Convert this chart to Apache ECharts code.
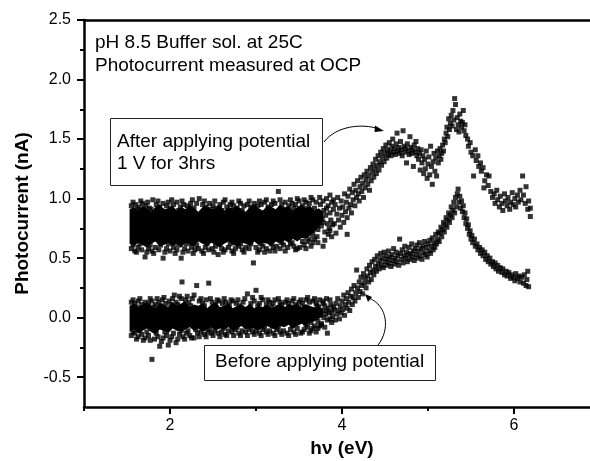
<!DOCTYPE html>
<html><head><meta charset="utf-8">
<script src="https://cdn.jsdelivr.net/npm/echarts@6/dist/echarts.min.js"></script>
<style>html,body{margin:0;padding:0;background:#fff}#c{width:590px;height:461px}</style>
</head><body><div id="c"></div><script>
// ---- tick values ----
const xTickLabels = [2, 4, 6];
const xMinorTicks = [1, 3, 5, 7];
const yTickLabels = [-0.5, 0, 0.5, 1, 1.5, 2, 2.5];
const yMinorTicks = [-0.25, 0.25, 0.75, 1.25, 1.75, 2.25];

// ---- dense core of the two noisy bands (x, lower edge, upper edge) ----
const bandX = [1.53,1.58,1.63,1.68,1.73,1.78,1.83,1.88,1.93,1.98,2.03,2.08,2.13,2.18,2.23,2.28,2.33,2.38,2.43,2.48,2.53,2.58,2.63,2.68,2.73,2.78,2.83,2.88,2.93,2.98,3.03,3.08,3.13,3.18,3.23,3.28,3.33,3.38,3.43,3.48,3.53,3.58,3.63,3.68,3.73,3.78];
const afterBandHigh = [0.91,0.93,0.90,0.94,0.92,0.89,0.93,0.95,0.91,0.92,0.94,0.90,0.93,0.91,0.95,0.92,0.89,0.93,0.94,0.91,0.92,0.95,0.90,0.93,0.92,0.94,0.91,0.89,0.93,0.95,0.92,0.90,0.94,0.93,0.91,0.95,0.92,0.94,0.90,0.93,0.95,0.92,0.94,0.90,0.92,0.89];
const afterBandLow  = [0.62,0.60,0.63,0.61,0.59,0.62,0.64,0.60,0.61,0.63,0.60,0.62,0.59,0.63,0.61,0.60,0.64,0.62,0.60,0.63,0.61,0.59,0.62,0.64,0.61,0.60,0.63,0.62,0.60,0.64,0.61,0.63,0.62,0.60,0.64,0.62,0.65,0.63,0.66,0.64,0.67,0.66,0.69,0.72,0.76,0.80];
const beforeBandHigh = [0.10,0.12,0.09,0.11,0.13,0.10,0.08,0.12,0.11,0.09,0.13,0.10,0.12,0.14,0.09,0.11,0.10,0.12,0.08,0.11,0.13,0.09,0.10,0.12,0.08,0.10,0.11,0.09,0.12,0.08,0.10,0.09,0.11,0.08,0.10,0.12,0.09,0.11,0.10,0.12,0.09,0.11,0.10,0.08,0.09,0.07];
const beforeBandLow  = [-0.12,-0.10,-0.13,-0.11,-0.09,-0.12,-0.14,-0.10,-0.11,-0.13,-0.09,-0.11,-0.12,-0.10,-0.08,-0.11,-0.09,-0.12,-0.10,-0.08,-0.11,-0.09,-0.10,-0.08,-0.11,-0.09,-0.07,-0.10,-0.08,-0.09,-0.11,-0.08,-0.07,-0.09,-0.10,-0.07,-0.08,-0.06,-0.09,-0.07,-0.05,-0.07,-0.04,-0.03,-0.01,0.02];

// ---- "After applying potential" individual points ----
const afterEdgeTop = [[1.55,0.94],[1.60,0.95],[1.64,0.93],[1.68,0.96],[1.72,0.94],[1.76,0.92],[1.80,0.99],[1.84,0.95],[1.88,0.93],[1.92,0.96],[1.96,0.94],[2.00,0.92],[2.04,0.95],[2.08,0.97],[2.12,0.93],[2.16,0.95],[2.20,0.94],[2.24,0.96],[2.28,0.92],[2.34,1.00],[2.38,0.95],[2.42,0.93],[2.46,0.96],[2.50,0.94],[2.54,0.92],[2.58,0.95],[2.62,0.97],[2.66,0.93],[2.70,0.95],[2.74,0.94],[2.78,0.92],[2.82,0.96],[2.86,0.94],[2.90,0.95],[2.94,0.93],[2.98,0.96],[3.02,0.94],[3.06,0.95],[3.10,0.97],[3.14,0.93],[3.18,0.95],[3.22,0.96],[3.26,1.06],[3.30,0.95],[3.34,0.97],[3.38,0.94],[3.42,0.96],[3.46,0.95],[3.50,0.98],[3.54,0.94],[3.58,0.97],[3.62,0.96],[3.66,0.99],[3.70,0.97],[3.74,1.01],[3.78,0.98],[3.82,1.00],[3.86,1.03],[3.90,0.99]];
const afterEdgeTop2 = [[1.57,0.97],[1.62,0.91],[1.66,0.98],[1.74,0.97],[1.78,0.91],[1.86,0.98],[1.90,0.90],[1.98,0.97],[2.02,0.99],[2.10,0.90],[2.14,0.98],[2.22,0.91],[2.26,0.99],[2.31,0.96],[2.40,0.98],[2.48,0.91],[2.52,0.98],[2.60,0.90],[2.64,0.99],[2.72,0.97],[2.80,0.98],[2.84,0.90],[2.92,0.98],[2.96,0.91],[3.04,0.98],[3.12,0.99],[3.16,0.91],[3.20,0.98],[3.28,0.99],[3.32,0.91],[3.40,0.99],[3.44,0.92],[3.48,1.00],[3.56,0.99],[3.60,0.92],[3.64,1.01]];
const afterEdgeBottom = [[1.55,0.58],[1.59,0.56],[1.63,0.59],[1.67,0.57],[1.71,0.51],[1.75,0.58],[1.79,0.56],[1.83,0.59],[1.87,0.57],[1.92,0.50],[1.96,0.58],[2.00,0.56],[2.04,0.59],[2.08,0.57],[2.13,0.50],[2.17,0.58],[2.21,0.56],[2.25,0.59],[2.29,0.57],[2.33,0.58],[2.37,0.56],[2.41,0.59],[2.45,0.57],[2.49,0.58],[2.53,0.60],[2.56,0.53],[2.60,0.58],[2.64,0.57],[2.68,0.59],[2.72,0.56],[2.76,0.58],[2.80,0.60],[2.84,0.57],[2.88,0.59],[2.92,0.58],[2.97,0.46],[3.00,0.59],[3.04,0.57],[3.08,0.60],[3.12,0.58],[3.16,0.56],[3.20,0.59],[3.24,0.60],[3.28,0.58],[3.32,0.61],[3.37,0.59],[3.40,0.62],[3.44,0.60],[3.48,0.58],[3.51,0.59],[3.56,0.61],[3.60,0.64],[3.64,0.60],[3.68,0.66],[3.72,0.63],[3.78,0.60],[3.80,0.65],[3.84,0.70],[3.88,0.68],[4.06,0.70]];
const afterEdgeBottom2 = [[1.57,0.61],[1.61,0.55],[1.65,0.62],[1.73,0.55],[1.77,0.61],[1.81,0.54],[1.89,0.61],[1.94,0.55],[1.98,0.62],[2.06,0.54],[2.10,0.61],[2.15,0.55],[2.19,0.62],[2.27,0.54],[2.31,0.61],[2.39,0.54],[2.43,0.62],[2.51,0.55],[2.58,0.62],[2.62,0.55],[2.70,0.62],[2.74,0.54],[2.82,0.62],[2.86,0.55],[2.94,0.62],[3.02,0.55],[3.06,0.62],[3.10,0.55],[3.18,0.62],[3.22,0.56],[3.30,0.63],[3.34,0.56],[3.42,0.63],[3.46,0.57],[3.54,0.64],[3.58,0.58],[3.62,0.66],[3.66,0.63]];
const afterTransition = [[3.62,0.78],[3.64,0.86],[3.66,0.70],[3.68,0.92],[3.70,0.80],[3.72,0.74],[3.73,0.88],[3.75,0.95],[3.76,0.77],[3.77,0.83],[3.79,0.90],[3.80,0.72],[3.81,0.86],[3.83,0.79],[3.84,0.94],[3.85,0.75],[3.86,0.88],[3.87,0.82],[3.88,0.97],[3.89,0.78],[3.90,0.91],[3.71,0.68],[3.74,0.84],[3.78,0.80],[3.82,0.92],[3.86,0.73]];
const afterTail = [[3.91,0.79],[3.92,0.95],[3.93,0.71],[3.94,0.87],[3.95,1.01],[3.96,0.82],[3.97,0.92],[3.98,0.76],[3.99,0.98],[4.00,0.86],[4.01,0.93],[4.02,0.80],[4.03,1.04],[4.04,0.89],[4.05,0.97],[4.06,0.84],[4.07,1.02],[4.08,0.92],[4.09,1.08],[4.10,0.95],[4.11,0.88],[4.12,1.05],[4.13,0.99],[4.14,1.12],[4.15,0.94],[4.16,1.07],[4.17,1.01],[4.18,1.15],[4.19,1.04],[4.20,0.98],[4.21,1.10],[4.22,1.18],[4.23,1.06],[4.24,1.13],[4.25,1.01],[4.26,1.20],[4.27,1.09],[4.28,1.16],[4.29,1.23],[4.30,1.12],[4.31,1.19],[4.32,1.07],[4.33,1.26],[4.34,1.15],[4.35,1.22],[4.36,1.29],[4.37,1.18],[4.38,1.25],[4.39,1.33],[4.40,1.21],[4.41,1.28],[4.42,1.36],[4.43,1.24],[4.44,1.31],[4.45,1.39],[4.46,1.28],[4.47,1.35],[4.48,1.42],[4.49,1.31],[4.50,1.38],[4.51,1.45],[4.52,1.34],[4.53,1.41],[4.54,1.37],[4.55,1.47],[4.56,1.40],[4.57,1.36],[4.58,1.44],[4.59,1.50],[4.60,1.39],[4.61,1.42],[4.62,1.37],[4.63,1.46],[4.64,1.55],[4.65,1.40],[4.66,1.43],[4.67,1.38],[4.68,1.48],[4.69,1.41],[4.70,1.36],[4.71,1.57],[4.72,1.44],[4.73,1.39],[4.74,1.42],[4.75,1.30],[4.76,1.46],[4.77,1.40],[4.78,1.37],[4.79,1.52],[4.80,1.43],[4.81,1.38],[4.82,1.41],[4.83,1.27],[4.84,1.45],[4.85,1.39],[4.86,1.48],[4.87,1.36],[4.88,1.42],[4.89,1.33],[4.90,1.38],[4.91,1.24],[4.92,1.41],[4.93,1.30],[4.94,1.36],[4.95,1.21],[4.96,1.33],[4.97,1.25],[4.98,1.40],[4.99,1.17],[5.00,1.29],[5.01,1.35],[5.02,1.20],[5.03,1.44],[5.04,1.27],[5.05,1.12],[5.06,1.31],[5.07,1.38],[5.08,1.23],[5.09,1.34],[5.10,1.19],[5.11,1.40],[5.12,1.30],[5.13,1.36],[5.14,1.42],[5.15,1.33],[5.16,1.38],[5.17,1.45],[5.18,1.40],[5.19,1.50],[5.20,1.47],[5.21,1.55],[5.22,1.60],[5.23,1.52],[5.24,1.67],[5.25,1.58],[5.26,1.63],[5.27,1.70],[5.28,1.61],[5.29,1.74],[5.30,1.66],[5.31,1.84],[5.32,1.79],[5.33,1.58],[5.34,1.68],[5.35,1.62],[5.36,1.56],[5.37,1.71],[5.38,1.65],[5.39,1.60],[5.40,1.64],[5.41,1.74],[5.42,1.57],[5.43,1.62],[5.44,1.53],[5.46,1.50],[5.47,1.44],[5.49,1.47],[5.50,1.39],[5.52,1.36],[5.53,1.19],[5.55,1.41],[5.56,1.32],[5.58,1.36],[5.59,1.27],[5.61,1.30],[5.62,1.23],[5.64,1.26],[5.65,1.09],[5.66,1.15],[5.68,1.20],[5.70,1.11],[5.71,1.19],[5.73,1.06],[5.75,1.01],[5.77,1.04],[5.78,0.96],[5.80,1.07],[5.81,0.99],[5.83,0.93],[5.84,1.02],[5.86,0.96],[5.87,0.90],[5.89,1.04],[5.90,0.98],[5.92,0.94],[5.93,1.01],[5.95,0.91],[5.96,0.97],[5.98,1.05],[5.99,0.95],[6.01,1.00],[6.02,0.93],[6.04,1.03],[6.05,0.97],[6.07,1.07],[6.08,0.99],[6.10,1.19],[6.11,1.03],[6.13,0.96],[6.14,1.10],[6.16,0.91],[6.17,0.98],[6.19,0.85],[6.19,0.92]];

// ---- "Before applying potential" individual points ----
const beforeEdgeTop = [[1.55,0.13],[1.59,0.12],[1.63,0.14],[1.67,0.11],[1.71,0.13],[1.75,0.12],[1.79,0.14],[1.83,0.11],[1.87,0.13],[1.91,0.15],[1.95,0.12],[1.99,0.14],[2.03,0.16],[2.07,0.13],[2.11,0.18],[2.14,0.30],[2.18,0.15],[2.22,0.13],[2.26,0.16],[2.31,0.27],[2.34,0.14],[2.38,0.12],[2.42,0.15],[2.45,0.29],[2.49,0.13],[2.53,0.11],[2.57,0.14],[2.61,0.12],[2.65,0.13],[2.69,0.11],[2.73,0.14],[2.77,0.12],[2.81,0.10],[2.85,0.13],[2.90,0.20],[2.94,0.12],[2.98,0.14],[3.00,0.23],[3.04,0.12],[3.08,0.15],[3.12,0.11],[3.16,0.13],[3.20,0.12],[3.26,0.16],[3.30,0.11],[3.34,0.13],[3.38,0.12],[3.42,0.14],[3.46,0.11],[3.50,0.13],[3.54,0.12],[3.58,0.15],[3.62,0.13],[3.66,0.14],[3.70,0.12],[3.74,0.15],[3.78,0.14],[3.82,0.16],[3.86,0.15]];
const beforeEdgeTop2 = [[1.57,0.15],[1.61,0.09],[1.65,0.16],[1.73,0.10],[1.77,0.16],[1.81,0.09],[1.85,0.16],[1.89,0.10],[1.93,0.17],[2.01,0.11],[2.05,0.19],[2.09,0.11],[2.13,0.16],[2.20,0.18],[2.24,0.10],[2.28,0.19],[2.36,0.16],[2.40,0.10],[2.47,0.16],[2.51,0.09],[2.55,0.15],[2.63,0.16],[2.67,0.09],[2.71,0.15],[2.79,0.15],[2.83,0.08],[2.87,0.16],[2.96,0.17],[3.02,0.10],[3.06,0.17],[3.14,0.15],[3.18,0.09],[3.22,0.15],[3.28,0.13],[3.36,0.15],[3.40,0.09],[3.44,0.16],[3.52,0.15],[3.56,0.09],[3.60,0.17],[3.68,0.16]];
const beforeEdgeBottom = [[1.55,-0.15],[1.59,-0.13],[1.63,-0.16],[1.67,-0.14],[1.71,-0.17],[1.75,-0.15],[1.79,-0.35],[1.82,-0.18],[1.86,-0.16],[1.88,-0.24],[1.92,-0.17],[1.96,-0.15],[1.98,-0.23],[2.02,-0.16],[2.07,-0.21],[2.11,-0.14],[2.15,-0.16],[2.19,-0.13],[2.23,-0.15],[2.28,-0.17],[2.32,-0.13],[2.36,-0.12],[2.40,-0.14],[2.44,-0.12],[2.48,-0.13],[2.52,-0.11],[2.56,-0.13],[2.60,-0.12],[2.64,-0.14],[2.68,-0.11],[2.72,-0.12],[2.76,-0.10],[2.80,-0.13],[2.84,-0.11],[2.88,-0.12],[2.92,-0.10],[2.96,-0.12],[3.00,-0.11],[3.04,-0.13],[3.08,-0.10],[3.12,-0.12],[3.16,-0.11],[3.20,-0.13],[3.24,-0.10],[3.28,-0.12],[3.32,-0.11],[3.36,-0.13],[3.40,-0.10],[3.44,-0.12],[3.48,-0.09],[3.52,-0.13],[3.56,-0.10],[3.60,-0.08],[3.64,-0.11],[3.68,-0.07],[3.72,-0.09],[3.76,-0.06],[3.80,-0.08],[3.83,-0.13],[3.88,-0.04]];
const beforeEdgeBottom2 = [[1.57,-0.12],[1.61,-0.18],[1.65,-0.11],[1.69,-0.19],[1.73,-0.12],[1.77,-0.19],[1.84,-0.13],[1.90,-0.20],[1.94,-0.12],[2.00,-0.19],[2.04,-0.13],[2.09,-0.18],[2.13,-0.11],[2.17,-0.18],[2.21,-0.11],[2.25,-0.17],[2.30,-0.10],[2.34,-0.16],[2.38,-0.09],[2.42,-0.16],[2.46,-0.10],[2.50,-0.15],[2.58,-0.16],[2.62,-0.09],[2.66,-0.15],[2.74,-0.15],[2.78,-0.08],[2.82,-0.15],[2.90,-0.15],[2.94,-0.08],[2.98,-0.14],[3.06,-0.15],[3.10,-0.08],[3.14,-0.14],[3.22,-0.15],[3.26,-0.08],[3.30,-0.14],[3.38,-0.15],[3.42,-0.07],[3.46,-0.14],[3.54,-0.12],[3.58,-0.06],[3.62,-0.13],[3.66,-0.09],[3.70,-0.12]];
const beforeTransition = [[3.62,0.02],[3.64,-0.04],[3.66,0.07],[3.68,0.00],[3.70,0.04],[3.72,-0.03],[3.73,0.09],[3.75,0.02],[3.76,-0.05],[3.77,0.06],[3.79,0.00],[3.80,0.10],[3.81,0.03],[3.83,-0.02],[3.84,0.08],[3.85,0.04],[3.86,-0.01],[3.87,0.11],[3.88,0.05],[3.89,0.01],[3.90,0.09],[3.71,0.10],[3.74,-0.07],[3.78,0.12],[3.82,0.06]];
const beforeTail = [[3.91,0.07],[3.92,-0.02],[3.93,0.12],[3.94,0.03],[3.95,0.16],[3.96,0.06],[3.97,-0.01],[3.98,0.10],[3.99,0.04],[4.00,0.14],[4.01,0.07],[4.02,0.19],[4.03,0.02],[4.04,0.11],[4.05,0.16],[4.06,0.08],[4.07,0.21],[4.08,0.13],[4.09,0.06],[4.10,0.18],[4.11,0.24],[4.12,0.11],[4.13,0.17],[4.14,0.27],[4.15,0.14],[4.16,0.21],[4.17,0.40],[4.18,0.25],[4.19,0.17],[4.20,0.30],[4.21,0.22],[4.22,0.34],[4.23,0.27],[4.24,0.20],[4.25,0.37],[4.26,0.29],[4.27,0.33],[4.28,0.25],[4.29,0.41],[4.30,0.35],[4.31,0.30],[4.32,0.44],[4.33,0.38],[4.34,0.32],[4.35,0.47],[4.36,0.40],[4.37,0.36],[4.38,0.49],[4.39,0.43],[4.40,0.39],[4.41,0.52],[4.42,0.45],[4.43,0.41],[4.44,0.48],[4.45,0.54],[4.46,0.44],[4.47,0.50],[4.48,0.42],[4.49,0.55],[4.50,0.47],[4.51,0.52],[4.52,0.44],[4.53,0.49],[4.54,0.56],[4.55,0.46],[4.56,0.51],[4.57,0.43],[4.58,0.53],[4.59,0.48],[4.60,0.58],[4.61,0.45],[4.62,0.50],[4.63,0.55],[4.64,0.47],[4.65,0.52],[4.66,0.44],[4.67,0.66],[4.68,0.54],[4.69,0.49],[4.70,0.57],[4.71,0.46],[4.72,0.52],[4.73,0.60],[4.74,0.50],[4.75,0.55],[4.76,0.47],[4.77,0.53],[4.78,0.59],[4.79,0.49],[4.80,0.54],[4.81,0.62],[4.82,0.51],[4.83,0.56],[4.84,0.48],[4.85,0.58],[4.86,0.53],[4.87,0.61],[4.88,0.50],[4.89,0.56],[4.90,0.63],[4.91,0.52],[4.92,0.58],[4.93,0.49],[4.94,0.60],[4.95,0.55],[4.96,0.64],[4.97,0.53],[4.98,0.59],[4.99,0.51],[5.00,0.62],[5.01,0.56],[5.02,0.65],[5.03,0.54],[5.04,0.60],[5.05,0.67],[5.06,0.57],[5.07,0.63],[5.08,0.59],[5.09,0.70],[5.10,0.62],[5.11,0.66],[5.12,0.72],[5.13,0.64],[5.14,0.71],[5.15,0.76],[5.16,0.68],[5.17,0.74],[5.18,0.80],[5.19,0.72],[5.20,0.78],[5.21,0.84],[5.22,0.76],[5.23,0.82],[5.24,0.88],[5.25,0.80],[5.26,0.86],[5.27,0.93],[5.28,0.84],[5.29,0.90],[5.30,0.97],[5.31,0.88],[5.32,1.01],[5.33,0.93],[5.34,1.04],[5.35,1.08],[5.36,0.97],[5.37,1.02],[5.38,0.92],[5.39,0.98],[5.40,0.89],[5.41,0.94],[5.42,0.84],[5.43,0.88],[5.44,0.79],[5.45,0.83],[5.46,0.75],[5.47,0.78],[5.48,0.70],[5.49,0.73],[5.50,0.66],[5.51,0.69],[5.52,0.63],[5.54,0.66],[5.55,0.60],[5.57,0.62],[5.58,0.57],[5.60,0.59],[5.61,0.54],[5.63,0.57],[5.64,0.52],[5.66,0.55],[5.67,0.49],[5.69,0.52],[5.70,0.47],[5.72,0.50],[5.73,0.45],[5.75,0.47],[5.76,0.43],[5.78,0.46],[5.79,0.41],[5.81,0.44],[5.82,0.39],[5.84,0.42],[5.86,0.38],[5.87,0.41],[5.89,0.36],[5.91,0.39],[5.92,0.35],[5.94,0.38],[5.96,0.33],[5.97,0.36],[5.99,0.34],[6.01,0.31],[6.02,0.37],[6.04,0.33],[6.06,0.35],[6.07,0.30],[6.09,0.34],[6.11,0.29],[6.12,0.36],[6.14,0.27],[6.15,0.32],[6.16,0.39],[6.17,0.26]];

const afterPoints = afterEdgeTop.concat(afterEdgeTop2, afterEdgeBottom, afterEdgeBottom2, afterTransition, afterTail);
const beforePoints = beforeEdgeTop.concat(beforeEdgeTop2, beforeEdgeBottom, beforeEdgeBottom2, beforeTransition, beforeTail);

const FONT = 'Liberation Sans, Arial, Helvetica, sans-serif';

function bandSeries(lo, hi) {
  return {
    type: 'custom', silent: true, z: 1, clip: false,
    data: bandX.map((x, i) => [x, lo[i], hi[i]]),
    encode: { x: 0, y: [1, 2] },
    renderItem: function (params, api) {
      if (params.dataIndex !== 0) return null;
      const pts = [];
      for (let i = 0; i < bandX.length; i++) pts.push(api.coord([bandX[i], hi[i]]));
      for (let i = bandX.length - 1; i >= 0; i--) pts.push(api.coord([bandX[i], lo[i]]));
      return { type: 'polygon', shape: { points: pts }, style: { fill: '#000' } };
    }
  };
}
function pointSeries(data) {
  return { type: 'scatter', data: data, symbol: 'rect', symbolSize: 5, z: 2,
    itemStyle: { color: '#000' }, silent: true, animation: false };
}

const axisLineStyle = { color: '#000', width: 2.5 };
const chart = echarts.init(document.getElementById('c'), null, { renderer: 'canvas' });
chart.setOption({
  animation: false,
  backgroundColor: '#fff',
  grid: { left: 84, top: 20, right: -10, bottom: 54, show: false,
          outerBoundsMode: 'none', containLabel: false },
  xAxis: [
    { type: 'value', min: 1, max: 7, position: 'bottom',
      axisLine: { onZero: false, lineStyle: axisLineStyle },
      axisTick: { customValues: xTickLabels, length: 7, lineStyle: { color: '#000', width: 2 } },
      axisLabel: { customValues: xTickLabels, margin: 11, fontSize: 16, color: '#000', fontFamily: FONT },
      splitLine: { show: false },
      name: 'h\u03bd (eV)', nameLocation: 'middle', nameGap: 26,
      nameTextStyle: { fontWeight: 'bold', fontSize: 19, color: '#000', fontFamily: FONT } },
    { type: 'value', min: 1, max: 7, position: 'bottom',
      axisLine: { show: false, onZero: false },
      axisTick: { show: true, customValues: xMinorTicks, length: 4, lineStyle: { color: '#000', width: 2 } },
      axisLabel: { show: false }, splitLine: { show: false } },
    { type: 'value', min: 1, max: 7, position: 'top',
      axisLine: { show: true, onZero: false, lineStyle: axisLineStyle },
      axisTick: { show: false }, axisLabel: { show: false }, splitLine: { show: false } }
  ],
  yAxis: [
    { type: 'value', min: -0.75, max: 2.5, position: 'left',
      axisLine: { show: true, onZero: false, lineStyle: axisLineStyle },
      axisTick: { show: true, customValues: yTickLabels, length: 7, lineStyle: { color: '#000', width: 2 } },
      axisLabel: { customValues: yTickLabels, margin: 13, fontSize: 16, color: '#000', fontFamily: FONT,
                   formatter: v => v.toFixed(1) },
      splitLine: { show: false },
      name: 'Photocurrent (nA)', nameLocation: 'middle', nameGap: 52,
      nameTextStyle: { fontWeight: 'bold', fontSize: 19, color: '#000', fontFamily: FONT } },
    { type: 'value', min: -0.75, max: 2.5, position: 'left',
      axisLine: { show: false, onZero: false },
      axisTick: { show: true, customValues: yMinorTicks, length: 4, lineStyle: { color: '#000', width: 2 } },
      axisLabel: { show: false }, splitLine: { show: false } }
  ],
  series: [
    bandSeries(afterBandLow, afterBandHigh),
    bandSeries(beforeBandLow, beforeBandHigh),
    pointSeries(afterPoints),
    pointSeries(beforePoints)
  ],
  graphic: [
    { type: 'text', left: 95, top: 33, style: { text: 'pH 8.5 Buffer sol. at 25C', font: '19px ' + FONT, fill: '#000' } },
    { type: 'text', left: 95, top: 56, style: { text: 'Photocurrent measured at OCP', font: '19px ' + FONT, fill: '#000' } },
    { type: 'rect', shape: { x: 110.5, y: 118.5, width: 212, height: 67 }, style: { fill: '#fff', stroke: '#222', lineWidth: 1 } },
    { type: 'text', left: 117, top: 132, style: { text: 'After applying potential', font: '19px ' + FONT, fill: '#000' } },
    { type: 'text', left: 117, top: 154, style: { text: '1 V for 3hrs', font: '19px ' + FONT, fill: '#000' } },
    { type: 'rect', shape: { x: 204.5, y: 345.5, width: 231, height: 35 }, style: { fill: '#fff', stroke: '#222', lineWidth: 1 } },
    { type: 'text', left: 215, top: 352, style: { text: 'Before applying potential', font: '19px ' + FONT, fill: '#000' } },
    { type: 'bezierCurve', shape: { x1: 324, y1: 142, cpx1: 336, cpy1: 126, cpx2: 362, cpy2: 123, x2: 379, y2: 129 },
      style: { stroke: '#000', lineWidth: 1, fill: null } },
    { type: 'polygon', shape: { points: [[384, 131], [375, 125.5], [374.5, 132]] }, style: { fill: '#000' } },
    { type: 'bezierCurve', shape: { x1: 378, y1: 345, cpx1: 390, cpy1: 330, cpx2: 388, cpy2: 306, x2: 369, y2: 298 },
      style: { stroke: '#000', lineWidth: 1, fill: null } },
    { type: 'polygon', shape: { points: [[365, 294], [372, 297], [368, 302]] }, style: { fill: '#000' } }
  ]
});
</script></body></html>
